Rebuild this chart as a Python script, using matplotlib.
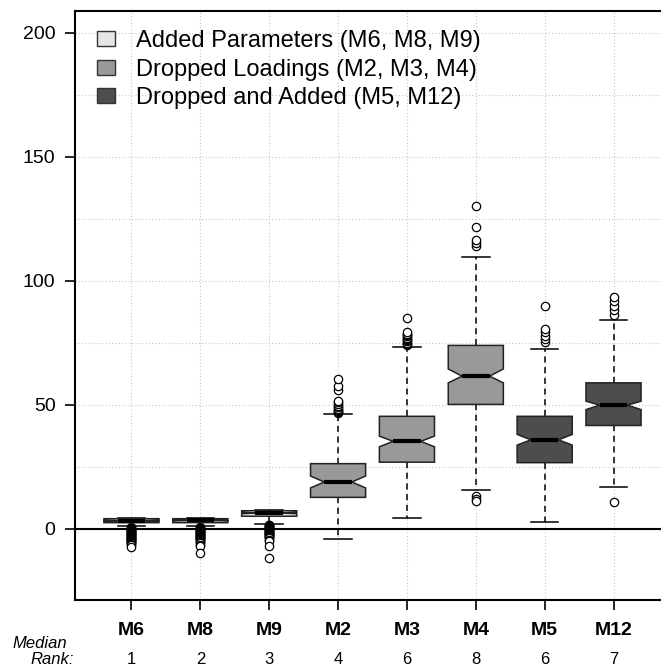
import matplotlib.pyplot as plt
from matplotlib.patches import Patch
from matplotlib.transforms import blended_transform_factory

plt.rcParams['font.family'] = ['Liberation Sans', 'DejaVu Sans']

# model order, group membership and rank shown under the axis
models = ["M6", "M8", "M9", "M2", "M3", "M4", "M5", "M12"]
median_rank = [1, 2, 3, 4, 6, 8, 6, 7]
group_of = [0, 0, 0, 1, 1, 1, 2, 2]
group_names = ["Added Parameters (M6, M8, M9)",
               "Dropped Loadings (M2, M3, M4)",
               "Dropped and Added (M5, M12)"]
group_colors = ["#E5E5E5", "#999999", "#4D4D4D"]

# box statistics
q1 = [2.4, 2.4, 5.0, 12.6, 26.8, 50.1, 26.6, 41.6]
med = [3.2, 3.3, 6.3, 18.8, 35.2, 61.5, 35.8, 49.8]
q3 = [4.0, 4.0, 7.2, 26.2, 45.3, 73.9, 45.3, 58.8]
ci_lo = [3.0, 3.1, 6.0, 16.4, 33.0, 58.8, 33.7, 48.0]
ci_hi = [3.4, 3.5, 6.6, 21.2, 37.3, 64.4, 38.0, 51.4]
whis_lo = [1.0, 1.0, 2.0, -4.0, 4.3, 15.5, 2.8, 16.9]
whis_hi = [4.2, 4.2, 7.6, 46.2, 73.1, 109.5, 72.6, 84.2]
outliers = [
    [0.6, 0.4, 0.2, 0.0, -0.2, -0.4, -0.6, -0.8, -1.0, -1.2, -1.4, -1.6, -1.8,
     -2.0, -2.2, -2.4, -2.6, -2.8, -3.0, -3.2, -3.4, -3.6, -3.8, -4.0, -4.2,
     -4.4, -4.6, -4.8, -5.0, -5.3, -5.6, -5.9, -6.3, -6.8, -7.4],
    [0.6, 0.4, 0.2, 0.0, -0.2, -0.4, -0.6, -0.8, -1.0, -1.2, -1.4, -1.6, -1.8,
     -2.0, -2.2, -2.4, -2.6, -2.8, -3.0, -3.2, -3.4, -3.6, -3.8, -4.0, -4.3,
     -4.6, -5.0, -5.4, -5.9, -6.5, -7.2, -9.7],
    [1.6, 1.4, 1.2, 1.0, 0.8, 0.6, 0.4, 0.2, 0.0, -0.2, -0.4, -0.6, -0.8,
     -1.0, -1.2, -1.4, -1.6, -1.8, -2.0, -2.2, -2.4, -2.6, -2.9, -3.2, -3.5,
     -3.9, -4.4, -5.0, -7.0, -11.8],
    [46.6, 47.0, 47.4, 47.9, 48.4, 49.0, 49.6, 50.3, 51.0, 51.4, 56.1, 57.7, 60.4],
    [74.0, 74.5, 75.0, 75.5, 76.0, 76.5, 77.0, 77.5, 78.0, 78.6, 79.2, 85.1],
    [113.9, 115.2, 116.5, 121.5, 130.3, 13.1, 12.1, 11.0],
    [75.1, 76.4, 77.8, 79.2, 80.5, 89.6],
    [86.3, 88.3, 90.0, 91.7, 93.4, 10.9],
]

fig = plt.figure(figsize=(6.61, 6.68), dpi=100)
ax = fig.add_axes([75 / 661, 68 / 668, 595 / 661, 589 / 668])

stats = []
for i, m in enumerate(models):
    stats.append(dict(label=m, med=med[i], q1=q1[i], q3=q3[i],
                      cilo=ci_lo[i], cihi=ci_hi[i],
                      whislo=whis_lo[i], whishi=whis_hi[i], fliers=outliers[i]))

positions = list(range(1, len(models) + 1))

# grid first so boxes sit on top
for p in positions:
    ax.axvline(p, color="#C8C8C8", lw=0.8, ls=(0, (1, 2)), zorder=0)
for yv in range(25, 201, 25):
    ax.axhline(yv, color="#C8C8C8", lw=0.8, ls=(0, (1, 2)), zorder=0)
ax.axhline(0, color="black", lw=1.5, zorder=1)

bp = ax.bxp(stats, positions=positions, widths=0.8, shownotches=True,
            patch_artist=True,
            boxprops=dict(edgecolor="#222222", linewidth=1.1),
            medianprops=dict(color="black", linewidth=3, solid_capstyle="butt"),
            whiskerprops=dict(color="black", linewidth=1.1, linestyle=(0, (4, 3))),
            capprops=dict(color="black", linewidth=1.1),
            flierprops=dict(marker="o", markerfacecolor="white",
                            markeredgecolor="black", markersize=6,
                            markeredgewidth=0.9))
for patch, g in zip(bp["boxes"], group_of):
    patch.set_facecolor(group_colors[g])
    patch.set_zorder(3)
for line in bp["medians"]:
    line.set_zorder(4)

ax.set_xlim(0.18, 8.82)
ax.set_ylim(-28.8, 208.8)

ax.set_yticks([0, 50, 100, 150, 200])
ax.set_xticks(positions)
ax.set_xticklabels(models, fontweight="bold", fontsize=14)
ax.tick_params(axis="y", direction="out", length=7, width=1.2, labelsize=14, pad=7)
ax.tick_params(axis="x", direction="out", length=7, width=1.2, pad=9)

for side in ["left", "top", "bottom"]:
    ax.spines[side].set_linewidth(1.5)
ax.spines["right"].set_visible(False)

# median rank row
trans = blended_transform_factory(ax.transData, fig.transFigure)
for p, r in zip(positions, median_rank):
    ax.text(p, 1 - 659 / 668, str(r), transform=trans, ha="center", va="center",
            fontsize=12)
fig.text(67 / 661, 1 - 643 / 668, "Median", ha="right", va="center",
         fontsize=12, style="italic")
fig.text(74 / 661, 1 - 659 / 668, "Rank:", ha="right", va="center",
         fontsize=12, style="italic")

handles = [Patch(facecolor=c, edgecolor="#333333", linewidth=1.0) for c in group_colors]
ax.legend(handles, group_names, loc="upper left",
          bbox_to_anchor=(22 / 595, 1 - 19 / 589), frameon=False, fontsize=17,
          handlelength=0.75, handleheight=0.6, handletextpad=0.9,
          labelspacing=0.28, borderpad=0, borderaxespad=0)

fig.savefig("out.png", dpi=100)
